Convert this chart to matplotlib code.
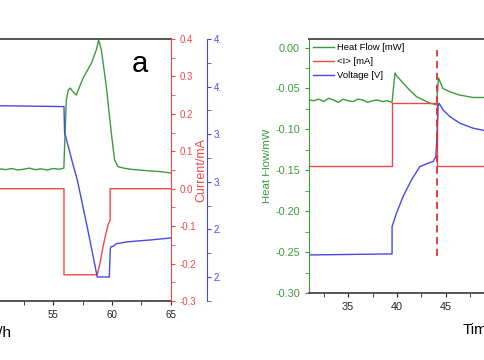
import numpy as np
import matplotlib.pyplot as plt
from matplotlib.patches import Rectangle
from matplotlib.ticker import MultipleLocator

plt.rcParams['font.family'] = ['Liberation Sans', 'DejaVu Sans']

GREEN = '#3c9a3c'
RED = '#f04848'
BLUE = '#4848e6'
DARK = '#555555'

# ---- panel a (left) ----
a_hf_t = [50.0, 50.5, 51.0, 51.5, 52.0, 52.5, 53.0, 53.5, 54.0, 54.5, 55.0, 55.5, 55.92,
          56.0, 56.13, 56.3, 56.47, 56.64, 56.97, 57.54, 58.25, 58.67, 58.87, 59.1,
          59.52, 59.94, 60.22, 60.5, 61.0, 61.6, 62.3, 63.0, 64.0, 65.0]
a_hf = [0.050, 0.053, 0.051, 0.054, 0.050, 0.052, 0.055, 0.051, 0.053, 0.050, 0.054, 0.052, 0.055,
        0.130, 0.237, 0.264, 0.269, 0.261, 0.250, 0.295, 0.335, 0.371, 0.397, 0.371,
        0.272, 0.149, 0.077, 0.059, 0.055, 0.052, 0.050, 0.048, 0.046, 0.042]

a_cur_t = [50.0, 55.93, 55.93, 58.75, 58.95, 59.24, 59.52, 59.71, 59.84, 59.84, 65.0]
a_cur = [0.0, 0.0, -0.23, -0.23, -0.204, -0.155, -0.115, -0.092, -0.085, 0.0, 0.0]

a_volt_t = [50.0, 55.93, 55.98, 56.38, 56.72, 57.06, 57.91, 58.75, 59.77, 59.86,
            59.94, 60.08, 60.36, 61.36, 63.33, 65.0]
a_volt = [3.80, 3.79, 3.52, 3.33, 3.17, 3.02, 2.52, 2.00, 2.00, 2.30,
          2.32, 2.32, 2.35, 2.37, 2.39, 2.41]

# ---- panel b (right) ----
b_hf_t = [31.0, 31.5, 32.0, 32.5, 33.0, 33.5, 34.0, 34.5, 35.0, 35.5, 36.0, 36.5, 37.0,
          37.5, 38.0, 38.5, 39.0, 39.5, 39.8, 40.0, 40.6, 41.3, 42.0, 42.7, 43.4, 44.05,
          44.25, 44.7, 45.4, 46.4, 47.8, 49.0, 49.5]
b_hf = [-0.064, -0.065, -0.063, -0.066, -0.062, -0.064, -0.067, -0.063, -0.065, -0.066,
        -0.063, -0.064, -0.067, -0.065, -0.064, -0.066, -0.065, -0.067, -0.031, -0.035,
        -0.043, -0.052, -0.060, -0.064, -0.068, -0.070, -0.037, -0.050, -0.054, -0.058,
        -0.061, -0.061, -0.061]

b_cur_t = [31.0, 39.5, 39.5, 44.05, 44.05, 49.5]
b_cur = [-0.1446, -0.1446, -0.0672, -0.0672, -0.1446, -0.1446]

b_volt_t = [31.0, 39.5, 39.5, 39.95, 40.63, 41.49, 42.34, 43.19, 43.70, 43.98, 44.11,
            44.21, 44.31, 44.72, 45.41, 46.43, 47.79, 48.99, 49.5]
b_volt = [-0.2535, -0.2522, -0.2188, -0.2025, -0.182, -0.1617, -0.1455, -0.1413, -0.1393,
          -0.1332, -0.1046, -0.0721, -0.068, -0.0762, -0.0843, -0.0924, -0.0985, -0.1015,
          -0.1025]

b_marker_t = 44.05
legend_labels = ['Heat Flow [mW]', '<I> [mA]', 'Voltage [V]']

fig = plt.figure(figsize=(4.85, 3.6), dpi=100)
W, H = 485.0, 360.0

# left panel, mostly cropped off the left edge
ax1 = fig.add_axes([-183 / W, 59 / H, 354 / W, 262 / H])
ax1.plot(a_hf_t, a_hf, color=GREEN, lw=1.0)
ax1.set_xlim(35, 65)
ax1.set_ylim(-0.3, 0.4)
ax1.xaxis.set_major_locator(MultipleLocator(5))
ax1.xaxis.set_minor_locator(MultipleLocator(2.5))
ax1.tick_params(axis='x', which='both', direction='out', length=3, labelsize=7, colors='#222222')
ax1.tick_params(axis='y', left=False, labelleft=False)
ax1.set_xlabel('Time/h', fontsize=11)
ax1.xaxis.set_label_coords(0.484, -0.095)
for s in ['top', 'bottom']:
    ax1.spines[s].set_color(DARK)
    ax1.spines[s].set_linewidth(1.4)
ax1.spines['right'].set_visible(False)
ax1.text(0.912, 0.905, 'a', transform=ax1.transAxes, fontsize=21, ha='center', va='center')

ax2 = ax1.twinx()
ax2.plot(a_cur_t, a_cur, color=RED, lw=1.0)
ax2.set_ylim(-0.3, 0.4)
ax2.yaxis.set_major_locator(MultipleLocator(0.1))
ax2.yaxis.set_minor_locator(MultipleLocator(0.05))
ax2.yaxis.set_major_formatter(lambda v, p: f'{v:.1f}')
ax2.tick_params(axis='y', which='both', colors=RED, labelsize=7, length=3)
ax2.spines['right'].set_color(RED)
ax2.spines['top'].set_visible(False)
ax2.spines['bottom'].set_visible(False)
ax2.spines['left'].set_visible(False)
ax2.set_ylabel('Current/mA', color=RED, fontsize=9)
ax2.yaxis.set_label_coords(1 + 24 / 354, 0.5)

ax3 = ax1.twinx()
ax3.plot(a_volt_t, a_volt, color=BLUE, lw=1.0)
ax3.set_ylim(4.5 - 262 / 95.2, 4.5)
ax3.spines['right'].set_position(('axes', 1 + 35.7 / 354))
ax3.yaxis.set_major_locator(MultipleLocator(0.5))
ax3.yaxis.set_minor_locator(MultipleLocator(0.25))
ax3.yaxis.set_major_formatter(lambda v, p: f'{v:.1f}')
ax3.tick_params(axis='y', which='both', colors=BLUE, labelsize=7, length=3, pad=2)
ax3.spines['right'].set_color(BLUE)
for s in ['top', 'bottom', 'left']:
    ax3.spines[s].set_visible(False)

# white gap between the two cropped panels
fig.add_artist(Rectangle((221.2 / W, 0), 41 / W, 1, transform=fig.transFigure,
                         facecolor='white', edgecolor='none', zorder=20))

# right panel, cropped at the right edge
bx = fig.add_axes([309 / W, 67 / H, 352.8 / W, 254 / H])
l1, = bx.plot(b_hf_t, b_hf, color=GREEN, lw=1.0)
l2, = bx.plot(b_cur_t, b_cur, color=RED, lw=1.0)
l3, = bx.plot(b_volt_t, b_volt, color=BLUE, lw=1.0)
bx.vlines(b_marker_t, -0.255, -0.003, colors='#e03030', linestyles=(0, (4, 2.5)), lw=1.3)
bx.set_xlim(31, 67.1)
bx.set_ylim(-0.30, 0.0105)
bx.xaxis.set_major_locator(MultipleLocator(5))
bx.xaxis.set_minor_locator(MultipleLocator(2.5))
bx.yaxis.set_major_locator(MultipleLocator(0.05))
bx.yaxis.set_minor_locator(MultipleLocator(0.025))
bx.yaxis.set_major_formatter(lambda v, p: f'{v:.2f}')
bx.tick_params(axis='x', which='both', direction='out', length=3, labelsize=7.8, colors='#222222')
bx.tick_params(axis='y', which='both', direction='out', length=3, labelsize=7.8, colors=GREEN)
bx.spines['left'].set_color(GREEN)
for s in ['top', 'bottom']:
    bx.spines[s].set_color(DARK)
    bx.spines[s].set_linewidth(1.4)
bx.set_xlabel('Time/h', fontsize=11)
bx.xaxis.set_label_coords(0.5, -0.12)
bx.set_ylabel('Heat Flow/mW', color=GREEN, fontsize=8.2)
bx.yaxis.set_label_coords(-37 / 352.8, 0.5)
bx.legend([l1, l2, l3], legend_labels, loc='upper left', bbox_to_anchor=(-0.005, 1.005),
          frameon=False, fontsize=6.8, handlelength=2.2, handletextpad=0.35,
          labelspacing=0.5, borderaxespad=0.2)

fig.savefig('out.png', dpi=100)
